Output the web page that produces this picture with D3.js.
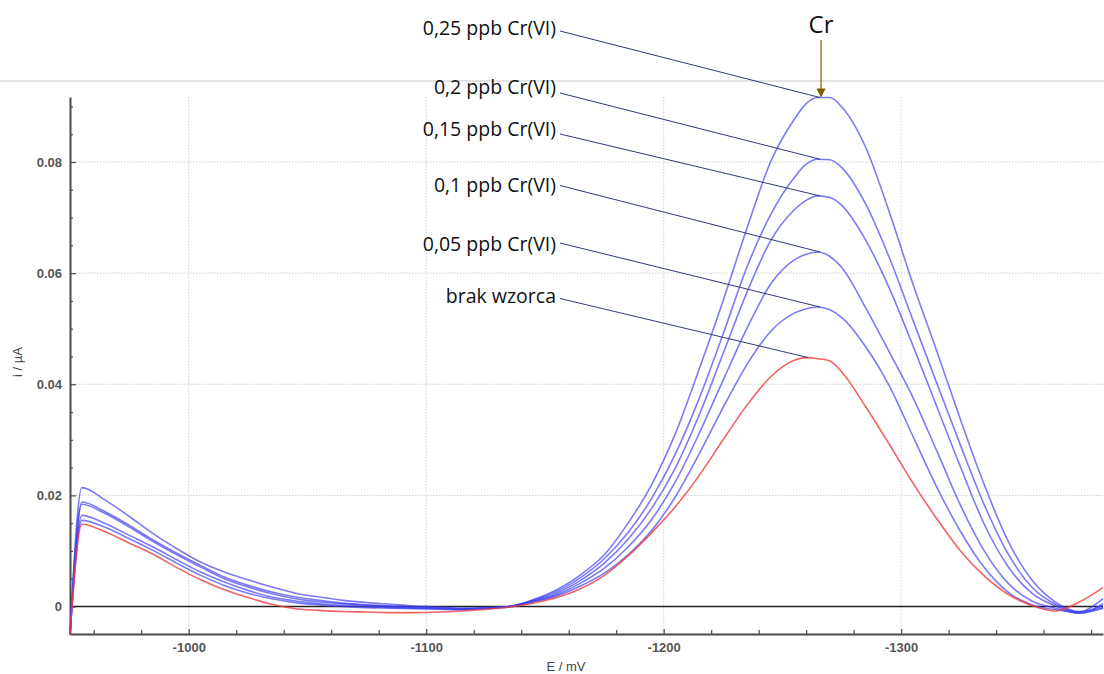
<!DOCTYPE html>
<html>
<head>
<meta charset="utf-8">
<script src="https://cdn.jsdelivr.net/npm/d3@7"></script>
<style>
  html, body { margin: 0; padding: 0; background: #fff; }
  svg { display: block; }
</style>
</head>
<body>
<div id="chart"></div>
<script>
// potential grid (mV)
const potentials = [-950, -955, -965, -975, -985, -995, -1005, -1015, -1025, -1035, -1045, -1055,
  -1065, -1075, -1085, -1095, -1105, -1115, -1125, -1135, -1145, -1155, -1165, -1175, -1185,
  -1195, -1205, -1215, -1225, -1235, -1245, -1255, -1260, -1265, -1270, -1275, -1285, -1295,
  -1305, -1315, -1325, -1335, -1345, -1355, -1365, -1375, -1385];

// current (µA) for each standard addition
const cr025 = [-0.0050, 0.0214, 0.0191, 0.0162, 0.0131, 0.0104, 0.0080, 0.0062, 0.0048, 0.0035, 0.0024, 0.0017,
  0.0011, 0.0007, 0.0004, 0.0001, -0.0001, -0.0003, -0.0002, 0.0000, 0.0012, 0.0030, 0.0057, 0.0093, 0.0150,
  0.0220, 0.0312, 0.0428, 0.0550, 0.0680, 0.0800, 0.0877, 0.0905, 0.0916, 0.0916, 0.0899, 0.0827, 0.0710,
  0.0580, 0.0460, 0.0336, 0.0219, 0.0118, 0.0048, 0.0008, -0.0009, 0.0014];
const cr020 = [-0.0050, 0.0188, 0.0170, 0.0146, 0.0120, 0.0096, 0.0074, 0.0053, 0.0038, 0.0026, 0.0017, 0.0011,
  0.0006, 0.0003, 0.0001, -0.0001, -0.0002, -0.0004, -0.0003, 0.0000, 0.0011, 0.0027, 0.0052, 0.0086, 0.0133,
  0.0195, 0.0275, 0.0375, 0.0490, 0.0610, 0.0705, 0.0772, 0.0796, 0.0805, 0.0804, 0.0790, 0.0725, 0.0628,
  0.0515, 0.0402, 0.0290, 0.0183, 0.0095, 0.0035, 0.0004, -0.0010, 0.0002];
const cr015 = [-0.0050, 0.0184, 0.0167, 0.0143, 0.0117, 0.0093, 0.0071, 0.0050, 0.0035, 0.0023, 0.0014, 0.0008,
  0.0005, 0.0002, 0.0000, -0.0002, -0.0003, -0.0005, -0.0003, 0.0000, 0.0010, 0.0024, 0.0047, 0.0078, 0.0121,
  0.0177, 0.0250, 0.0345, 0.0455, 0.0565, 0.0658, 0.0714, 0.0731, 0.0739, 0.0736, 0.0722, 0.0660, 0.0573,
  0.0469, 0.0360, 0.0251, 0.0148, 0.0072, 0.0024, 0.0001, -0.0012, -0.0003];
const cr010 = [-0.0050, 0.0164, 0.0149, 0.0128, 0.0107, 0.0084, 0.0062, 0.0044, 0.0029, 0.0017, 0.0010, 0.0005,
  0.0002, 0.0000, -0.0002, -0.0003, -0.0004, -0.0005, -0.0003, 0.0000, 0.0009, 0.0021, 0.0042, 0.0069, 0.0107,
  0.0157, 0.0225, 0.0312, 0.0407, 0.0500, 0.0580, 0.0624, 0.0634, 0.0638, 0.0630, 0.0610, 0.0538, 0.0458,
  0.0376, 0.0280, 0.0182, 0.0100, 0.0042, 0.0010, -0.0003, -0.0012, 0.0005];
const cr005 = [-0.0050, 0.0155, 0.0142, 0.0122, 0.0101, 0.0078, 0.0056, 0.0038, 0.0024, 0.0014, 0.0007, 0.0003,
  0.0000, -0.0002, -0.0003, -0.0004, -0.0005, -0.0006, -0.0004, -0.0001, 0.0008, 0.0019, 0.0037, 0.0060, 0.0093,
  0.0137, 0.0198, 0.0275, 0.0358, 0.0435, 0.0495, 0.0528, 0.0536, 0.0539, 0.0534, 0.0520, 0.0468, 0.0397,
  0.0306, 0.0215, 0.0135, 0.0070, 0.0026, 0.0003, -0.0006, -0.0010, -0.0002];
const blank = [-0.0050, 0.0148, 0.0134, 0.0114, 0.0094, 0.0070, 0.0048, 0.0030, 0.0016, 0.0004, -0.0004, -0.0007,
  -0.0009, -0.0010, -0.0011, -0.0011, -0.0010, -0.0008, -0.0005, -0.0001, 0.0006, 0.0016, 0.0032, 0.0056, 0.0091,
  0.0133, 0.0180, 0.0236, 0.0300, 0.0362, 0.0413, 0.0443, 0.0448, 0.0446, 0.0442, 0.0422, 0.0360, 0.0292,
  0.0222, 0.0158, 0.0100, 0.0055, 0.0022, 0.0002, -0.0008, 0.0008, 0.0034];

const seriesNames = ["0,25 ppb Cr(VI)", "0,2 ppb Cr(VI)", "0,15 ppb Cr(VI)", "0,1 ppb Cr(VI)", "0,05 ppb Cr(VI)", "brak wzorca"];
const seriesValues = [cr025, cr020, cr015, cr010, cr005, blank];

const xTicks = [-1000, -1100, -1200, -1300];
const yTicks = [0, 0.02, 0.04, 0.06, 0.08];

const width = 1104;
const height = 674;

// where the annotation text sits (baseline) and where its leader starts
const labelBaseline = [35, 94, 136, 192, 250.5, 302.5];
const leaderStartY = [31, 93, 134, 185.5, 243, 298.5];

const svg = d3.select("#chart")
  .append("svg")
  .attr("width", width)
  .attr("height", height)
  .style("background", "#fff");

const x = d3.scaleLinear()
  .domain([-950, -1385])
  .range([70, 1103]);

const y = d3.scaleLinear()
  .domain([-0.00495, 0.0917])
  .range([634, 97]);

// border of the pasted screenshot
svg.append("line")
  .attr("x1", 0).attr("x2", width)
  .attr("y1", 81).attr("y2", 81)
  .attr("stroke", "#dadada")
  .attr("stroke-width", 1.5);

// dotted grid
svg.append("g")
  .selectAll("line")
  .data(yTicks.filter(d => d !== 0))
  .enter()
  .append("line")
  .attr("x1", x.range()[0]).attr("x2", x.range()[1])
  .attr("y1", d => y(d)).attr("y2", d => y(d))
  .attr("stroke", "#cfcfcf")
  .attr("stroke-dasharray", "1.5,1.5");

svg.append("g")
  .selectAll("line")
  .data(xTicks)
  .enter()
  .append("line")
  .attr("x1", d => x(d)).attr("x2", d => x(d))
  .attr("y1", y.range()[1]).attr("y2", y.range()[0])
  .attr("stroke", "#cfcfcf")
  .attr("stroke-dasharray", "1.5,1.5");

// zero line
svg.append("line")
  .attr("x1", x.range()[0]).attr("x2", x.range()[1])
  .attr("y1", y(0)).attr("y2", y(0))
  .attr("stroke", "#222")
  .attr("stroke-width", 1.5);

// axes
const xAxis = svg.append("g")
  .attr("transform", `translate(0, ${y.range()[0]})`)
  .call(d3.axisBottom(x)
    .tickValues(xTicks)
    .tickFormat(d => String(d))
    .tickSizeInner(-5)
    .tickSizeOuter(0)
    .tickPadding(9));

svg.append("g")
  .attr("transform", `translate(0, ${y.range()[0]})`)
  .call(d3.axisBottom(x)
    .tickValues(d3.range(-960, -1386, -20).filter(d => d % 100 !== 0))
    .tickFormat("")
    .tickSizeInner(-4)
    .tickSizeOuter(0))
  .select(".domain").remove();

const yAxis = svg.append("g")
  .attr("transform", `translate(${x.range()[0]}, 0)`)
  .call(d3.axisLeft(y)
    .tickValues(yTicks)
    .tickFormat(d => d === 0 ? "0" : d.toFixed(2))
    .tickSizeInner(-6)
    .tickSizeOuter(0)
    .tickPadding(8));

svg.append("g")
  .attr("transform", `translate(${x.range()[0]}, 0)`)
  .call(d3.axisLeft(y)
    .tickValues(d3.range(0, 0.0917, 0.005).map(d => +d.toFixed(3)).filter(d => Math.round(d * 1000) % 20 !== 0))
    .tickFormat("")
    .tickSizeInner(-3)
    .tickSizeOuter(0))
  .select(".domain").remove();

[xAxis, yAxis].forEach(a => {
  a.select(".domain").attr("stroke", "#4a4a4a").attr("stroke-width", 2);
  a.selectAll(".tick text")
    .style("font-family", "'Liberation Sans', Arial, sans-serif")
    .style("font-size", "13px")
    .style("font-weight", "bold")
    .attr("fill", "#555");
});
svg.selectAll(".tick line").attr("stroke", "#4a4a4a").attr("stroke-width", 1.2);

svg.append("text")
  .attr("x", 566)
  .attr("y", 671)
  .attr("text-anchor", "middle")
  .style("font-family", "'Liberation Sans', Arial, sans-serif")
  .style("font-size", "13px")
  .attr("fill", "#444")
  .text("E / mV");

svg.append("text")
  .attr("transform", "translate(22, 362) rotate(-90)")
  .attr("text-anchor", "middle")
  .style("font-family", "'Liberation Sans', Arial, sans-serif")
  .style("font-size", "13px")
  .attr("fill", "#444")
  .text("i / µA");

// curves
const line = d3.line()
  .x((d, i) => x(potentials[i]))
  .y(d => y(d))
  .curve(d3.curveMonotoneX);

const curves = svg.append("g");
seriesValues.forEach((vals, k) => {
  const isBlank = k === seriesValues.length - 1;
  curves.append("path")
    .datum(vals)
    .attr("d", line)
    .attr("fill", "none")
    .attr("stroke", isBlank ? "rgb(240,60,60)" : "rgb(60,60,240)")
    .attr("stroke-opacity", isBlank ? 0.8 : 0.68)
    .attr("stroke-width", 1.6)
    .attr("stroke-linejoin", "round");
});

// labels with leader lines to the peaks
const notes = svg.append("g");
seriesValues.forEach((vals, k) => {
  const iMax = d3.maxIndex(vals);
  notes.append("line")
    .attr("x1", 560)
    .attr("y1", leaderStartY[k])
    .attr("x2", x(potentials[iMax]) + 2)
    .attr("y2", y(vals[iMax]))
    .attr("stroke", "#2c3b78")
    .attr("stroke-width", 1);

  notes.append("text")
    .attr("x", 556)
    .attr("y", labelBaseline[k])
    .attr("text-anchor", "end")
    .style("font-family", "'Open Sans', sans-serif")
    .style("font-size", "19.5px")
    .attr("fill", "#111")
    .text(seriesNames[k]);
});

// "Cr" marker arrow above the tallest peak
const iTop = d3.maxIndex(cr025);
const ax = x(potentials[iTop]) + 3;
const ay = y(cr025[iTop]);

svg.append("line")
  .attr("x1", ax).attr("x2", ax)
  .attr("y1", 40).attr("y2", ay - 8)
  .attr("stroke", "#7f6000")
  .attr("stroke-width", 1.2);

svg.append("path")
  .attr("d", `M${ax - 4.5},${ay - 9} L${ax + 4.5},${ay - 9} L${ax},${ay} Z`)
  .attr("fill", "#7f6000");

svg.append("text")
  .attr("x", ax)
  .attr("y", 33)
  .attr("text-anchor", "middle")
  .style("font-family", "'Open Sans', sans-serif")
  .style("font-size", "24px")
  .attr("fill", "#111")
  .text("Cr");
</script>
</body>
</html>
